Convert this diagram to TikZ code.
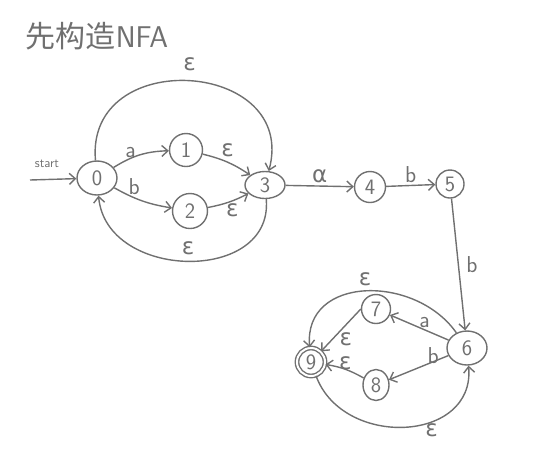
\documentclass[tikz,border=0pt]{standalone}
\usepackage{fontspec}
\newfontfamily\cjk{Noto Sans CJK SC}
\newfontfamily\greek{DejaVu Sans}
\usetikzlibrary{arrows.meta,shapes.geometric}
\definecolor{pen}{RGB}{112,112,112}
\newcommand{\eps}{{\greek ε}}
\begin{document}
\begin{tikzpicture}[x=1pt,y=-1pt,
  line width=1.4pt,color=pen,>={Straight Barb[length=6pt,width=11pt]},
  main node/.style={ellipse,draw,font=\sffamily\fontsize{22}{24}\selectfont,minimum size=30pt,inner sep=0pt},
  lbl/.style={font=\sffamily\fontsize{23}{25}\selectfont}]
  \useasboundingbox (0,0) rectangle (554,467);
  \node[font=\cjk\fontsize{30}{32}\selectfont] (title) at (97,36) {先构造\sffamily NFA};
  \node[main node,minimum width=40pt,minimum height=34pt] (0) at (97,178) {0};
  \node[main node,minimum size=33pt] (1) at (186,150) {1};
  \node[main node,minimum size=35pt] (2) at (190,211) {2};
  \node[main node,minimum width=40pt,minimum height=27pt] (3) at (265,185) {3};
  \node[main node,minimum size=31pt] (4) at (370,187) {4};
  \node[main node,minimum size=28pt] (5) at (450,184) {5};
  \node[main node,minimum width=40pt,minimum height=34pt] (6) at (467,348) {6};
  \node[main node,minimum size=29pt] (7) at (376,309) {7};
  \node[main node,minimum width=26pt,minimum height=31pt] (8) at (376,385) {8};
  \node[main node,double,double distance=2pt,minimum size=28pt] (9) at (311,362) {9};
  \coordinate (s) at (30,180);
  \node[lbl,font=\sffamily\fontsize{13}{15}\selectfont] (st) at (47,164) {start};
  \path[->,every node/.style={lbl}]
   (s) edge (0)
   (0) edge[bend left=15] node[above left=-5pt,pos=0.4]{a} (1)
   (0) edge[bend right=10] node[above=-1pt,pos=0.35]{b} (2)
   (1) edge[bend left=10] node[above=1pt]{\eps} (3)
   (2) edge[bend right=8] node[below=-1pt,pos=0.6]{\eps} (3)
   (0) edge[out=95,in=75,looseness=1.7] node[above=6pt]{\eps} (3)
   (3) edge[out=-85,in=-85,looseness=1.3] node[above=2pt]{\eps} (0)
   (3) edge node[above=-1pt]{\greek α} (4)
   (4) edge node[above=-1pt]{b} (5)
   (5) edge node[right=4pt]{b} (6)
   (6) edge node[above right=-4pt]{a} (7)
   (7.west) edge node[anchor=north west,inner sep=0pt,pos=0.55]{\eps} (9)
   (6) edge node[above right=-4pt,pos=0.35]{b} (8)
   (8) edge[bend right=10] node[above=-5pt]{\eps} (9)
   (6) edge[out=125,in=95,looseness=1.25] node[above=1pt]{\eps} (9)
   (9) edge[out=-70,in=-85,looseness=1.3] node[below right=-4pt,pos=0.6]{\eps} (6);
\end{tikzpicture}
\end{document}
